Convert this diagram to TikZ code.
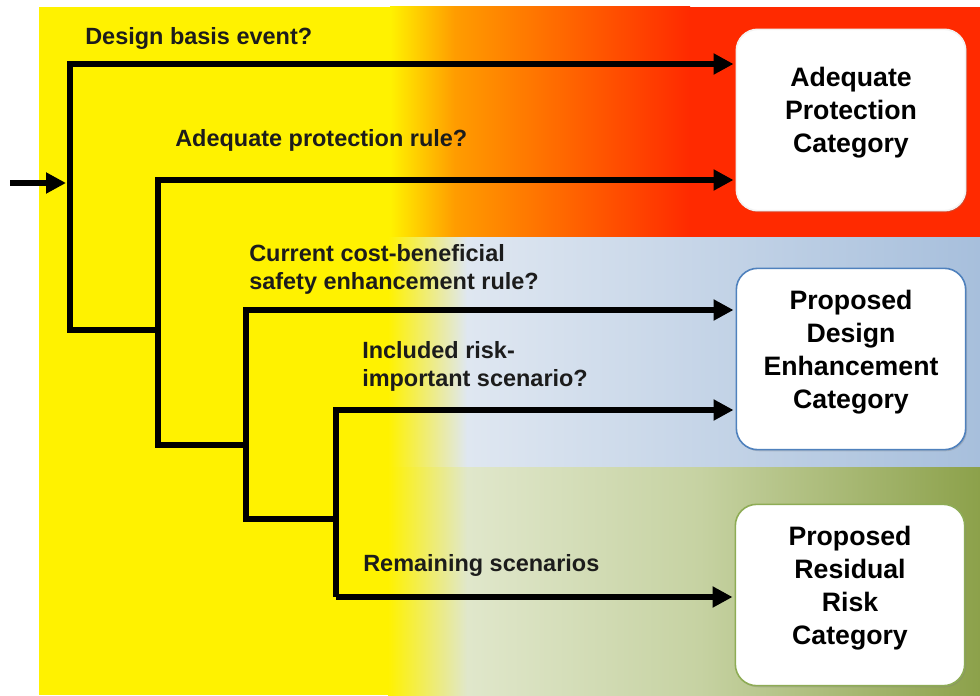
\documentclass[tikz,border=0pt]{standalone}
\usepackage{fontspec}
\setmainfont{Liberation Sans}
\usetikzlibrary{arrows.meta, shadows}
\definecolor{bandyel}{HTML}{FFF200}
\definecolor{bandorg}{HTML}{FF9C00}
\definecolor{bandred}{HTML}{FF2A00}
\definecolor{bluelt}{HTML}{DFE7F1}
\definecolor{bluedk}{HTML}{A7BFDC}
\definecolor{greenlt}{HTML}{E0E7CB}
\definecolor{greenmd}{HTML}{C6D2A2}
\definecolor{greendk}{HTML}{8CA14A}
\definecolor{apcline}{HTML}{F2F2F2}
\definecolor{pdeline}{HTML}{4F81BD}
\definecolor{prrline}{HTML}{8EAC55}
\definecolor{qtext}{HTML}{1C1C1C}
\tikzset{
  catbox/.style = {rectangle, rounded corners=16pt, fill=white, line width=1.2pt,
                   align=center, font=\fontsize{20}{24.75}\selectfont\bfseries,
                   minimum width=172pt, minimum height=136pt, inner sep=2pt, text depth=15pt,
                   drop shadow={opacity=0.3, shadow xshift=1pt, shadow yshift=-1.2pt}},
  qlbl/.style   = {anchor=west, align=left, inner sep=0pt, text=qtext,
                   font=\fontsize{17.6}{21}\selectfont\bfseries},
  wire/.style   = {line width=4.5pt, line cap=rect, line join=miter},
  flow/.style   = {line width=4.5pt, line join=miter, shorten >=1.5pt,
                   -{Triangle[length=15pt, width=15pt]}},
}
\begin{document}
\begin{tikzpicture}[x=0.75pt, y=-0.75pt]
	\useasboundingbox (0,0) rectangle (980,695);
	% bands
	\fill[bandyel] (39,7) rectangle (390,237);
	\shade[left color=bandyel, right color=bandorg] (390,7) rectangle (455,237);
	\shade[left color=bandorg, right color=bandred] (455,7) rectangle (690,237);
	\fill[bandred] (690,7) rectangle (980,237);
	\fill[bandyel] (39,237) rectangle (388,467);
	\shade[left color=bandyel, right color=bluelt] (388,237) rectangle (467,467);
	\shade[left color=bluelt, right color=bluedk] (467,237) rectangle (980,467);
	\fill[bandyel] (39,467) rectangle (388,695);
	\shade[left color=bandyel, right color=greenlt] (388,467) rectangle (467,695);
	\shade[left color=greenlt, right color=greenmd] (467,467) rectangle (700,695);
	\shade[left color=greenmd, right color=greendk] (700,467) rectangle (980,695);

	\node[catbox, draw=apcline] (apc) at (851,120) {Adequate\\Protection\\Category};
	\node[catbox, draw=pdeline] (pde) at (851,359) {Proposed\\Design\\Enhancement\\Category};
	\node[catbox, draw=prrline] (prr) at (850,595) {Proposed\\Residual\\Risk\\Category};

	\coordinate (src) at (10,183);
	\coordinate (br1) at (70,64);   \coordinate (bt1) at (70,330);
	\coordinate (br2) at (158,180); \coordinate (bt2) at (158,445);
	\coordinate (br3) at (246,310); \coordinate (bt3) at (246,519);
	\coordinate (br4) at (336,410); \coordinate (bt4) at (336,597);

	\node[qlbl] (q1) at (85,38)  {Design basis event?};
	\node[qlbl] (q2) at (175,140) {Adequate protection rule?};
	\node[qlbl] (q3) at (249,269) {Current cost-beneficial\\safety enhancement rule?};
	\node[qlbl] (q4) at (362,366) {Included risk-\\important scenario?};
	\node[qlbl] (q5) at (363,565) {Remaining scenarios};

	\foreach \i/\b in {1/apc, 2/apc, 3/pde, 4/pde}{\draw[flow] (bt\i) -- (br\i) -- (br\i -| \b.west);}
	\foreach \i/\j in {1/2, 2/3, 3/4}{\draw[wire] (bt\i) -- (bt\i -| br\j);}
	\draw[flow] (bt4) -- (bt4 -| prr.west);
	\draw[flow, shorten >=3pt] (src) -- (src -| br1);
\end{tikzpicture}
\end{document}
